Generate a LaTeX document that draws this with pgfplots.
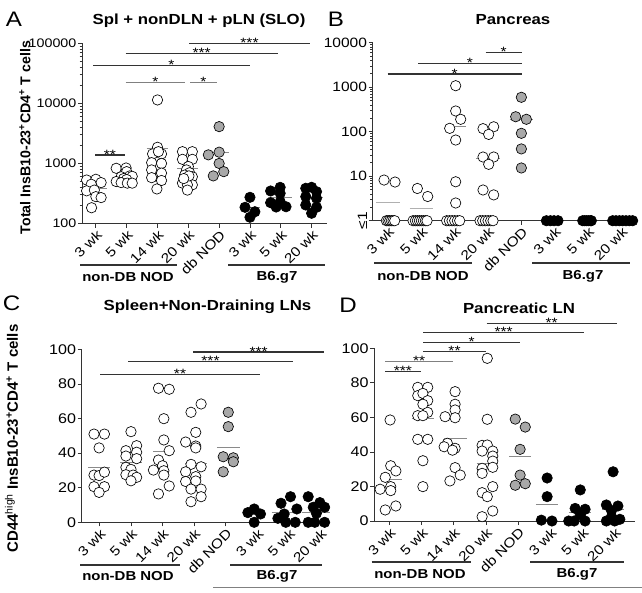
\documentclass[border=0pt]{standalone}
\usepackage{fontspec}
\setmainfont[FakeStretch=1.15]{Liberation Sans}
\newfontfamily\plainfont{Liberation Sans}
\usepackage{graphicx}
\usepackage{pgfplots}
\pgfplotsset{compat=1.18}
\definecolor{ax}{HTML}{333333}
\definecolor{med}{HTML}{8A8A8A}
\definecolor{medlight}{HTML}{B0B0B0}
\definecolor{gfill}{HTML}{A8A8A8}
\pgfplotsset{
 panel/.style={
  scale only axis, axis lines=left, axis line style={-, color=ax, line width=0.8pt},
  tick style={color=ax, line width=0.8pt}, tick align=outside,
  major tick length=4pt, minor tick length=2.5pt,
  xtick={0,1,2,3,4,5,6,7},
  xticklabels={3 wk,5 wk,14 wk,20 wk,db NOD,3 wk,5 wk,20 wk},
  xticklabel style={rotate=45, anchor=north east, font=\fontsize{13.5}{13.5}\selectfont, inner sep=1pt},
  yticklabel style={inner sep=1.5pt},
  /pgf/number format/assume math mode=true,
  clip=false, anchor=south west,
 },
 openm/.style={only marks, mark=*, mark size=5.2pt, mark options={fill=white, draw=black, line width=0.65pt}},
 graym/.style={only marks, mark=*, mark size=5.2pt, mark options={fill=gfill, draw=black, line width=0.65pt}},
 blackm/.style={only marks, mark=*, mark size=5.2pt, mark options={fill=black, draw=black, line width=0.65pt}},
 medl/.style={med, line width=1pt, no marks},
}
\tikzset{
 sigline/.style={ax, line width=1.3pt},
 star/.style={anchor=base, inner sep=0pt, font=\fontsize{13.5}{13.5}\selectfont},
}
\newcommand\sig[5]{\draw[sigline,#5] (#1,#3) -- (#2,#3); \node[star] at ({(#1+#2)/2},{#3+4}) {#4};}
\begin{document}
\begin{tikzpicture}
% ---------------- Panel A
\begin{axis}[panel, at={(82pt,-223.5pt)}, width=245pt, height=180.2pt,
  xmin=-0.45, xmax=7.5, ymode=log, ymin=100, ymax=100000,
  ytick={100,1000,10000,100000}, yticklabels={100,1000,10000,100000},
  yticklabel style={font=\fontsize{12.4}{12}\selectfont}]
\addplot[openm] coordinates {
 (-0.30,530) (0.0,545) (0.17,480) (-0.15,450) (-0.30,350) (-0.05,360) (0.0,280) (0.17,270) (-0.14,183)
 (0.66,830) (0.98,840) (1.0,730) (0.82,600) (1.10,620) (1.18,610) (0.90,560) (1.0,540) (0.66,500) (0.82,480) (1.02,470) (1.18,470)
 (2.0,11400) (2.0,1860) (1.84,1440) (2.13,1440) (2.03,1570) (1.81,1030) (2.13,1000) (1.81,780) (2.13,690) (1.81,580) (2.13,520) (1.98,376)
 (2.81,1570) (3.13,1570) (2.81,1170) (3.13,1170) (3.0,890) (2.94,780) (3.04,700) (2.88,640) (3.13,600) (2.81,470) (3.13,440) (2.97,440) (2.97,360) (3.02,620) (2.85,560)
};
\addplot[graym] coordinates {(4.0,4100) (3.65,1390) (4.0,1540) (4.0,1000) (4.15,730) (3.81,620)};
\addplot[blackm] coordinates {
 (5.0,273) (4.84,186) (5.16,157) (5.0,127)
 (5.67,348) (5.98,400) (5.98,318) (5.67,222) (5.98,231) (5.85,188) (6.17,190)
 (6.81,386) (7.0,401) (7.16,339) (6.81,280) (7.16,263) (6.81,203) (7.16,186) (7.0,148)
};
\addplot[medl] coordinates {(-0.28,385) (0.35,385)};
\addplot[medl] coordinates {(0.72,566) (1.34,566)};
\addplot[medl] coordinates {(1.65,1790) (2.35,1790)};
\addplot[medl] coordinates {(2.64,810) (3.32,810)};
\addplot[medl] coordinates {(3.62,1540) (4.33,1540)};
\addplot[medl] coordinates {(4.68,186) (5.32,186)};
\addplot[medl] coordinates {(5.6,269) (6.36,269)};
\addplot[medl] coordinates {(6.64,273) (7.36,273)};
\end{axis}
% ---------------- Panel B
\begin{axis}[panel, at={(372.7pt,-220.7pt)}, width=265.3pt, height=178pt,
  xmin=-0.46, xmax=7.5, ymode=log, ymin=1, ymax=10000,
  ytick={1,10,100,1000,10000}, yticklabels={\rotatebox{90}{≤1},10,100,1000,10000},
  yticklabel style={font=\fontsize{13.5}{13.5}\selectfont}]
\addplot[openm] coordinates {
 (-0.05,1) (0.0,1) (0.05,1) (0.1,1) (0.15,1) (0.2,1) (-0.12,8.2) (0.21,7.4)
 (0.75,1) (0.82,1) (0.88,1) (0.94,1) (1.0,1) (1.06,1) (1.12,1) (1.17,1) (0.88,5.3) (1.19,3.5)
 (1.76,1) (1.84,1) (1.92,1) (2.0,1) (2.08,1) (2.15,1)
 (2.03,1080) (2.03,292) (2.18,190) (1.85,119) (2.03,65) (2.03,7.5) (2.03,2.5)
 (2.76,1) (2.84,1) (2.92,1) (3.0,1) (3.08,1) (3.15,1)
 (2.85,117) (3.17,129) (3.02,87) (2.85,27) (3.17,27) (3.02,18.5) (2.85,4.9) (3.17,3.8)
};
\addplot[graym] coordinates {(4.0,593) (3.83,217) (4.15,190) (4.0,92) (4.0,41) (4.0,15.3)};
\addplot[blackm] coordinates {
 (4.75,1) (4.87,1) (4.98,1) (5.1,1)
 (5.84,1) (5.9,1) (5.96,1) (6.02,1) (6.08,1) (6.1,1)
 (6.74,1) (6.84,1) (6.94,1) (7.04,1) (7.14,1) (7.24,1) (7.34,1)
};
\addplot[medlight, line width=1pt, no marks] coordinates {(-0.35,2.5) (0.35,2.5)};
\addplot[medlight, line width=1pt, no marks] coordinates {(0.65,1.9) (1.35,1.9)};
\addplot[medl] coordinates {(1.7,134) (2.35,134)};
\addplot[medl] coordinates {(2.65,25) (3.35,25)};
\addplot[medl] coordinates {(3.65,190) (4.35,190)};
\end{axis}
% ---------------- Panel C
\begin{axis}[panel, at={(81.7pt,-522.3pt)}, width=248.3pt, height=173pt,
  xmin=-0.56, xmax=7.3, ymin=0, ymax=100,
  ytick={0,20,40,60,80,100}, yticklabels={0,20,40,60,80,100},
  yticklabel style={font=\fontsize{14}{14}\selectfont}]
\addplot[openm] coordinates {
 (-0.17,51) (0.16,51) (-0.01,43) (-0.17,27.3) (-0.01,27) (0.16,29) (-0.17,20.6) (0.16,20.6) (-0.01,17.3)
 (1.0,52.4) (0.84,41.4) (1.18,44.3) (0.84,38.3) (1.18,40.5) (1.18,36.8) (0.84,31.8) (1.0,30.6) (0.84,27.5) (1.07,27.3) (1.18,26) (1.0,24)
 (1.87,77.5) (2.21,76.9) (2.04,59.9) (2.04,47.6) (2.21,41.4) (1.87,36) (2.0,32.7) (1.71,30.2) (2.04,29.8) (2.04,27.3) (2.21,21) (1.87,16.4)
 (3.22,68.4) (2.9,63.6) (3.05,52) (2.73,46.4) (3.05,44.1) (3.05,43) (2.9,33.5) (3.22,32.1) (2.73,29.2) (3.05,26.4) (3.05,23.9) (2.73,23.6) (2.9,19.2) (3.22,19.2) (3.22,14.8) (2.9,11.9)
};
\addplot[graym] coordinates {(4.08,63.6) (4.08,55.3) (3.92,37.9) (4.24,37.3) (4.24,35) (3.92,29.2)};
\addplot[blackm] coordinates {
 (4.7,5.6) (4.9,7.7) (5.1,4.8) (4.9,0)
 (6.05,14.8) (5.75,11) (5.85,4.8) (6.25,7.7) (5.65,2.3) (5.9,0) (6.2,0)
 (6.61,14.8) (6.98,11.4) (7.13,8.7) (6.77,8.7) (6.87,5.2) (6.61,0) (6.82,0) (7.13,0)
};
\addplot[medl] coordinates {(-0.35,31.6) (0.34,31.6)};
\addplot[medl] coordinates {(0.66,34.7) (1.34,34.7)};
\addplot[medl] coordinates {(1.71,40.8) (2.4,40.8)};
\addplot[medl] coordinates {(2.71,34.1) (3.4,34.1)};
\addplot[medl] coordinates {(3.72,43.1) (4.45,43.1)};
\addplot[medl] coordinates {(4.61,4.6) (5.24,4.6)};
\addplot[medl] coordinates {(5.45,5.8) (6.3,5.8)};
\addplot[medl] coordinates {(6.4,5.8) (7.3,5.8)};
\end{axis}
% ---------------- Panel D
\begin{axis}[panel, at={(374.3pt,-521pt)}, width=260.7pt, height=172.7pt,
  xmin=-0.47, xmax=7.63, ymin=0, ymax=100,
  ytick={0,20,40,60,80,100}, yticklabels={0,20,40,60,80,100},
  yticklabel style={font=\fontsize{14}{14}\selectfont}]
\addplot[openm] coordinates {
 (0.02,58.5) (0.04,32) (0.2,29) (-0.13,25.3) (-0.29,18.4) (0.04,19.9) (0.04,17.6) (-0.13,6.4) (0.2,8.7)
 (0.88,77.4) (1.19,77.4) (0.88,72.6) (1.04,73.9) (1.19,69.7) (1.04,67.6) (1.19,62.9) (0.88,61) (1.04,61) (0.88,47.3) (1.19,47.3) (1.04,34.9) (1.04,19.9)
 (2.04,74.9) (2.04,67.6) (2.04,64.3) (2.04,59.8) (1.73,60.4) (1.8,45) (1.7,43) (2.04,42.1) (1.96,41) (2.04,30.9) (2.2,26.6) (1.88,23.2)
 (3.04,94.2) (3.04,58.9) (2.88,43.8) (3.04,44) (2.88,40.5) (3.21,40.5) (3.21,37.6) (3.21,34.7) (2.88,30.5) (3.21,31.1) (2.88,27.6) (2.88,16.4) (3.04,14.1) (3.21,19.9) (3.21,5.8) (2.88,2.5)
};
\addplot[graym] coordinates {(3.91,59) (4.22,54.4) (4.06,41.5) (4.06,26.6) (3.91,20.7) (4.22,21.6)};
\addplot[blackm] coordinates {
 (4.9,24.9) (4.9,14.1) (4.72,0.5) (5.05,0)
 (5.93,18) (5.77,7.3) (6.08,6.8) (5.93,3.5) (5.57,0) (5.74,0) (6.08,0)
 (6.95,28.5) (6.74,9.3) (7.1,8.7) (6.9,6) (6.74,0) (7.0,0) (7.16,1) (6.9,2.5)
};
\addplot[medl] coordinates {(-0.19,24.1) (0.38,24.1)};
\addplot[medl] coordinates {(0.7,59.5) (1.39,59.5)};
\addplot[medl] coordinates {(1.7,47.9) (2.4,47.9)};
\addplot[medl] coordinates {(2.71,33.4) (3.38,33.4)};
\addplot[medl] coordinates {(3.73,37.2) (4.4,37.2)};
\addplot[medl] coordinates {(4.55,9.8) (5.24,9.8)};
\addplot[medl] coordinates {(5.57,4.8) (6.26,4.8)};
\addplot[medl] coordinates {(6.59,6.8) (7.28,6.8)};
\end{axis}
% ---------------- Annotations (pixel coordinates, y down)
\begin{scope}[x=1pt,y=-1pt]
\node[font=\fontsize{21}{21}\selectfont] at (14,19.5) {A};
\node[font=\fontsize{21}{21}\selectfont] at (336,19.5) {B};
\node[font=\fontsize{21}{21}\selectfont] at (11.5,303.5) {C};
\node[font=\fontsize{21}{21}\selectfont] at (348,305.5) {D};
\node[font=\bfseries\fontsize{14.6}{15}\selectfont] at (199,20.5) {Spl + nonDLN + pLN (SLO)};
\node[font=\bfseries\fontsize{14.6}{15}\selectfont] at (513,19.5) {Pancreas};
\node[font=\bfseries\fontsize{14.6}{15}\selectfont] at (207.5,307) {Spleen+Non-Draining LNs};
\node[font=\bfseries\fontsize{14.6}{15}\selectfont] at (519,308) {Pancreatic LN};
\node[rotate=90, font=\plainfont\bfseries\fontsize{14.2}{15}\selectfont] at (25,137.5) {Total InsB10-23\textsuperscript{+}CD4\textsuperscript{+} T cells};
\node[rotate=90, font=\plainfont\bfseries\fontsize{15}{15}\selectfont] at (11.5,438.5) {CD44\textsuperscript{\mdseries high} InsB10-23\textsuperscript{+}CD4\textsuperscript{+} T cells};
% group labels
\begin{scope}[line width=2pt, ax]
\draw (80,265) -- (177,265); \draw (228,265) -- (325,265);
\draw (374,263.3) -- (472,263.3); \draw (532,263.3) -- (630,263.3);
\draw (80,564.5) -- (180,564.5); \draw (230,564.5) -- (322,564.5);
\draw (371.7,561.7) -- (470.7,561.7); \draw (530,561.7) -- (624,561.7);
\end{scope}
\begin{scope}[every node/.style={font=\bfseries\fontsize{13}{13}\selectfont}]
\node at (128,277.5) {non-DB NOD}; \node at (277,277.5) {B6.g7};
\node at (423,276) {non-DB NOD}; \node at (583,276) {B6.g7};
\node at (128,576.5) {non-DB NOD}; \node at (277,576.5) {B6.g7};
\node at (420,574) {non-DB NOD}; \node at (577,574) {B6.g7};
\end{scope}
\draw[gray, line width=0.8pt] (213,587) -- (642,587);
% significance bars
\sig{189}{310}{43.3}{***}{}
\sig{125.7}{277.7}{53.3}{***}{}
\sig{93}{250}{65.3}{*}{}
\sig{125.7}{185}{82.7}{*}{gray}
\sig{190}{216.7}{82.7}{*}{gray}
\sig{95}{125}{155}{**}{}
\sig{485.7}{521.7}{52.7}{*}{}
\sig{418.3}{521.7}{63.3}{*}{}
\sig{387.7}{521.7}{74}{*}{}
\sig{193.3}{324}{352}{***}{}
\sig{128.3}{292.7}{361.7}{***}{}
\sig{100}{260}{374.3}{**}{}
\sig{486.7}{616.7}{323.3}{**}{}
\sig{423.3}{584}{332.3}{***}{}
\sig{423.3}{520}{342.3}{*}{}
\sig{423.3}{485.7}{351.7}{**}{}
\sig{385}{453.3}{361.7}{**}{gray}
\sig{385}{420.7}{371.7}{***}{}
\end{scope}
\pgfresetboundingbox
\useasboundingbox (0pt,0pt) rectangle (642pt,-592pt);
\end{tikzpicture}
\end{document}
